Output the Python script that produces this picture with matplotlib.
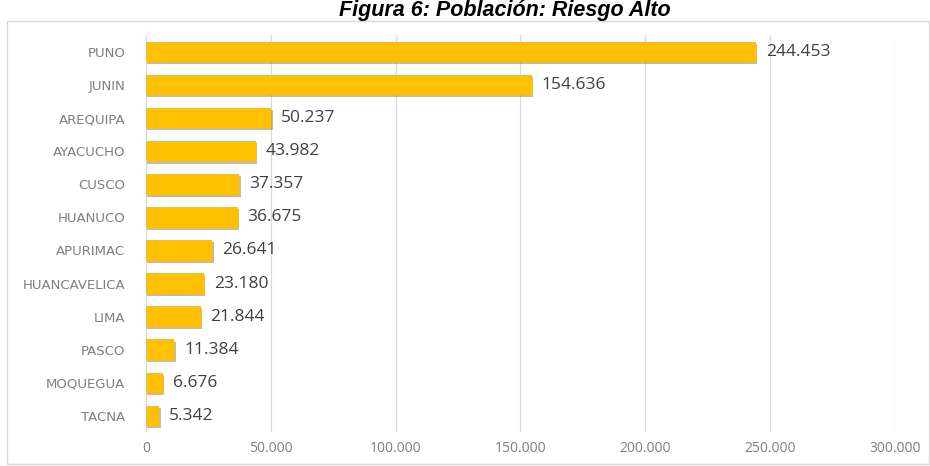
import numpy as np
import matplotlib
matplotlib.use('Agg')
import matplotlib.pyplot as plt
import matplotlib.patheffects as pe
from matplotlib.patches import Rectangle
from matplotlib.ticker import FuncFormatter

regiones = ['PUNO', 'JUNIN', 'AREQUIPA', 'AYACUCHO', 'CUSCO', 'HUANUCO', 'APURIMAC',
            'HUANCAVELICA', 'LIMA', 'PASCO', 'MOQUEGUA', 'TACNA']
poblacion = [244453, 154636, 50237, 43982, 37357, 36675, 26641, 23180, 21844, 11384, 6676, 5342]
xticks = [0, 50000, 100000, 150000, 200000, 250000, 300000]


def miles(v):
    # formato con punto como separador de miles
    return '{:,.0f}'.format(v).replace(',', '.')


fig = plt.figure(figsize=(9.3, 4.66), dpi=100)
ax = fig.add_axes([0.157, 0.072, 0.805, 0.852])

y = np.arange(len(regiones))
bars = ax.barh(y, poblacion, height=0.62, color='#FFC000', zorder=3)
for b in bars:
    b.set_path_effects([pe.SimplePatchShadow(offset=(1, -1.5), shadow_rgbFace='#7a6a40', alpha=0.45),
                        pe.Normal()])

for yi, v in zip(y, poblacion):
    ax.text(v + 4000, yi, miles(v), va='center', ha='left', fontsize=12.5,
            color='#404040', family='Open Sans')

ax.set_ylim(len(regiones) - 0.5, -0.5)
ax.set_xlim(0, 300000)
ax.set_yticks(y)
ax.set_yticklabels(regiones, fontsize=9.5, color='#7F7F7F', family='DejaVu Sans')
ax.set_xticks(xticks)
ax.xaxis.set_major_formatter(FuncFormatter(lambda v, p: miles(v)))
ax.tick_params(axis='x', labelsize=10, colors='#7F7F7F', length=0, pad=6)
ax.tick_params(axis='y', length=0, pad=15)
for lbl in ax.get_xticklabels():
    lbl.set_family('Open Sans')
ax.grid(axis='x', color='#D9D9D9', linewidth=0.9, zorder=0)
for s in ax.spines.values():
    s.set_visible(False)

# marco del grafico
fig.patches.append(Rectangle((7 / 930, 2 / 466), 922 / 930, 443 / 466, transform=fig.transFigure,
                             fill=False, edgecolor='#D9D9D9', linewidth=1))

fig.text(0.543, 1 - 16 / 466, 'Figura 6: Población: Riesgo Alto', ha='center', va='baseline',
         fontsize=15.5, fontweight='bold', fontstyle='italic', family='Liberation Sans')

fig.savefig('out.png', dpi=100)
